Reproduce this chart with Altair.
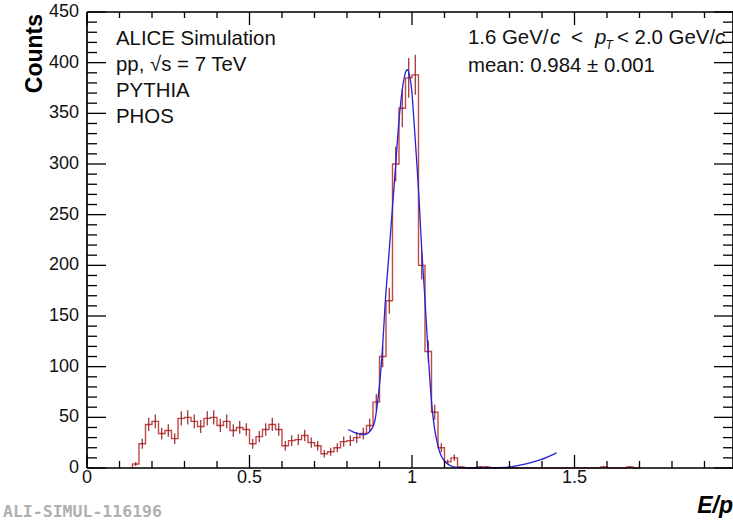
import altair as alt
import pandas as pd

# ---------------- data ----------------
BIN_START = 0.14
BIN_WIDTH = 0.02
counts = [4, 24, 43, 46, 34, 37, 29, 49, 50, 46,
          41, 49, 50, 42, 46, 37, 40, 38, 24, 31,
          38, 43, 38, 22, 27, 28, 32, 25, 22, 14,
          16, 20, 26, 27, 30, 34, 42, 65, 110, 165,
          300, 355, 385, 388, 200, 115, 55, 20, 6, 10,
          1, 0, 0, 1, 1, 0, 0, 0, 0, 0,
          0, 0, 0, 0, 0, 0, 0, 0, 0, 0,
          0, 0, 1, 0, 0, 0, 1, 0]
errors = [2.0, 4.9, 6.6, 6.8, 5.8, 6.1, 5.4, 7.0, 7.1, 6.8,
          6.4, 7.0, 7.1, 6.5, 6.8, 6.1, 6.3, 6.2, 4.9, 5.6,
          6.2, 6.6, 6.2, 4.7, 5.2, 5.3, 5.7, 5.0, 4.7, 3.7,
          4.0, 4.5, 5.1, 5.2, 5.5, 5.8, 6.5, 8.1, 10.5, 12.8,
          17.3, 18.8, 19.6, 19.7, 14.1, 10.7, 7.4, 4.5, 2.4, 3.2,
          1.0, 0, 0, 1.0, 1.0, 0, 0, 0, 0, 0,
          0, 0, 0, 0, 0, 0, 0, 0, 0, 0,
          0, 0, 1.0, 0, 0, 0, 1.0, 0]

fit_x = [0.804, 0.82, 0.84, 0.855, 0.87, 0.88, 0.886, 0.893, 0.9015, 0.91,
         0.917, 0.93, 0.9415, 0.95, 0.96, 0.97, 0.978, 0.985, 0.992, 1.0,
         1.006, 1.015, 1.022, 1.03, 1.04, 1.048, 1.055, 1.061, 1.068, 1.075,
         1.08, 1.086, 1.095, 1.107, 1.12, 1.138, 1.17, 1.2, 1.25, 1.296,
         1.332, 1.36, 1.394, 1.42, 1.445]
fit_y = [38, 35.5, 33.5, 33, 36, 41, 47, 62, 87, 122,
         160, 215, 264, 300, 343, 373, 388, 393, 388, 370,
         343, 300, 264, 215, 166, 122, 87, 62, 42, 29,
         22, 15, 9, 4.6, 2, 0.6, 0, 0, 0.2, 0.8,
         2.8, 4.8, 8, 11.3, 15]

x_major = [0, 0.5, 1, 1.5]
x_major_labels = ["0", "0.5", "1", "1.5"]
x_minor = [0.1, 0.2, 0.3, 0.4, 0.6, 0.7, 0.8, 0.9, 1.1, 1.2, 1.3, 1.4,
           1.6, 1.7, 1.8, 1.9]
y_major = [0, 50, 100, 150, 200, 250, 300, 350, 400, 450]
y_major_labels = ["0", "50", "100", "150", "200", "250", "300", "350",
                  "400", "450"]
y_minor = [10, 20, 30, 40, 60, 70, 80, 90, 110, 120, 130, 140, 160, 170,
           180, 190, 210, 220, 230, 240, 260, 270, 280, 290, 310, 320, 330,
           340, 360, 370, 380, 390, 410, 420, 430, 440]

x_title = "E/p"
y_title = "Counts"
left_text = ["ALICE Simulation", "pp, \u221as = 7 TeV", "PYTHIA", "PHOS"]
mean_text = "mean: 0.984 \u00b1 0.001"
watermark = "ALI-SIMUL-116196"

# ---------------- styling ----------------
FONT = "Liberation Sans"
W, H = 646, 456
XMAX = W / 325.0
STEP_COLOR = "#c24848"
ERR_COLOR = "#8e1414"
FIT_COLOR = "#2222d6"
TXT = "#111111"
ANN = 20.4

xs = alt.Scale(domain=[0, XMAX], nice=False, zero=False)
ys = alt.Scale(domain=[0, 450], nice=False, zero=False)

# ---------------- tables ----------------
step_rows = [{"i": 0, "x": BIN_START, "c": 0}]
for k, c in enumerate(counts):
    step_rows.append({"i": k + 1, "x": round(BIN_START + k * BIN_WIDTH, 4), "c": c})
step_rows.append({"i": len(counts) + 1,
                  "x": round(BIN_START + len(counts) * BIN_WIDTH, 4), "c": 0})
step_df = pd.DataFrame(step_rows)

err_rows = []
for k, (c, e) in enumerate(zip(counts, errors)):
    if c > 0:
        mid = round(BIN_START + (k + 0.5) * BIN_WIDTH, 4)
        err_rows.append({"x": mid, "lo": c - e, "hi": c + e})
err_df = pd.DataFrame(err_rows)

fit_df = pd.DataFrame({"x": fit_x, "y": fit_y})

xmaj_df = pd.DataFrame({"v": x_major, "t": x_major_labels})
xmin_df = pd.DataFrame({"v": x_minor})
ymaj_df = pd.DataFrame({"v": y_major, "t": y_major_labels})
ymin_df = pd.DataFrame({"v": y_minor})

# ---------------- layers ----------------
step = alt.Chart(step_df).mark_line(
    interpolate="step-after", color=STEP_COLOR, strokeWidth=1.4
).encode(
    x=alt.X("x:Q", scale=xs, axis=None),
    y=alt.Y("c:Q", scale=ys, axis=None),
    order=alt.Order("i:Q"),
)

errbars = alt.Chart(err_df).mark_rule(color=ERR_COLOR, strokeWidth=1.1).encode(
    x=alt.X("x:Q", scale=xs, axis=None),
    y=alt.Y("lo:Q", scale=ys, axis=None),
    y2="hi:Q",
)

fit = alt.Chart(fit_df).mark_line(
    color=FIT_COLOR, strokeWidth=1.3, interpolate="monotone"
).encode(
    x=alt.X("x:Q", scale=xs, axis=None),
    y=alt.Y("y:Q", scale=ys, axis=None),
)

TICK_W = 1.3


def xticks(df, y0, y1):
    return alt.Chart(df).mark_rule(color="#000", strokeWidth=TICK_W).encode(
        x=alt.X("v:Q", scale=xs, axis=None),
        y=alt.value(y0), y2=alt.value(y1))


def yticks(df, x0, x1):
    return alt.Chart(df).mark_rule(color="#000", strokeWidth=TICK_W).encode(
        y=alt.Y("v:Q", scale=ys, axis=None),
        x=alt.value(x0), x2=alt.value(x1))


ticks = [
    xticks(xmaj_df, H, H - 13), xticks(xmin_df, H, H - 7),
    xticks(xmaj_df, 0, 13), xticks(xmin_df, 0, 6),
    yticks(ymaj_df, 0, 19), yticks(ymin_df, 0, 10),
    yticks(ymaj_df, W, W - 19), yticks(ymin_df, W, W - 10),
]

# tick labels placed through the scales
xlabels = alt.Chart(xmaj_df).mark_text(
    align="center", baseline="top", font=FONT, fontSize=18, color=TXT
).encode(x=alt.X("v:Q", scale=xs, axis=None), y=alt.value(H + 1), text="t:N")

ylabels = alt.Chart(ymaj_df).mark_text(
    align="right", baseline="middle", font=FONT, fontSize=18, color=TXT
).encode(y=alt.Y("v:Q", scale=ys, axis=None), x=alt.value(-8), text="t:N")

one = pd.DataFrame({"k": [0]})


def frame(**enc):
    return alt.Chart(one).mark_rule(color="#000", strokeWidth=1.7).encode(**enc)


frames = [
    frame(x=alt.value(0), x2=alt.value(W), y=alt.value(H)),
    frame(x=alt.value(0), x2=alt.value(W), y=alt.value(0)),
    frame(x=alt.value(0), y=alt.value(0), y2=alt.value(H)),
    frame(x=alt.value(W), y=alt.value(0), y2=alt.value(H)),
]


def label(text, x, y, size=ANN, align="left", style="normal", color=TXT,
          font=FONT, weight="normal", angle=0, baseline="alphabetic"):
    return alt.Chart(pd.DataFrame({"t": [text]})).mark_text(
        align=align, baseline=baseline, font=font, fontSize=size,
        fontStyle=style, fontWeight=weight, color=color, angle=angle
    ).encode(x=alt.value(x), y=alt.value(y), text="t:N")


texts = [
    label(y_title, -45, 2, size=23, weight="bold", align="right", angle=270,
          color="#000"),
    label(x_title, W, H + 45, size=23, weight="bold", style="italic",
          align="right", color="#000"),
    label(left_text[0], 29, 33),
    label(left_text[1], 29, 58.5),
    label(left_text[2], 29, 84.5),
    label(left_text[3], 29, 111),
    # 1.6 GeV/c < p_T < 2.0 GeV/c  (pieces for italics and subscript)
    label("1.6 GeV/", 381, 31.5),
    label("c", 463, 31.5, style="italic"),
    label("<", 484, 31.5),
    label("p", 508, 31.5, style="italic"),
    label("T", 518.5, 37, size=12, style="italic"),
    label("< 2.0 GeV/", 530, 31.5),
    label("c", 628, 31.5, style="italic"),
    label(mean_text, 381, 59.5),
    label(watermark, -84, 505, size=16.5, color="#b0b0b0",
          font="DejaVu Sans Mono", weight="bold"),
]

chart = alt.layer(step, errbars, fit, *ticks, *frames, xlabels, ylabels,
                  *texts).properties(
    width=W, height=H,
    autosize=alt.AutoSizeParams(type="none"),
    padding={"left": 87, "top": 12, "right": 0, "bottom": 55},
).configure_view(stroke=None).configure(background="#ffffff")

chart.save("out.html", embed_options={"renderer": "svg", "actions": False})
